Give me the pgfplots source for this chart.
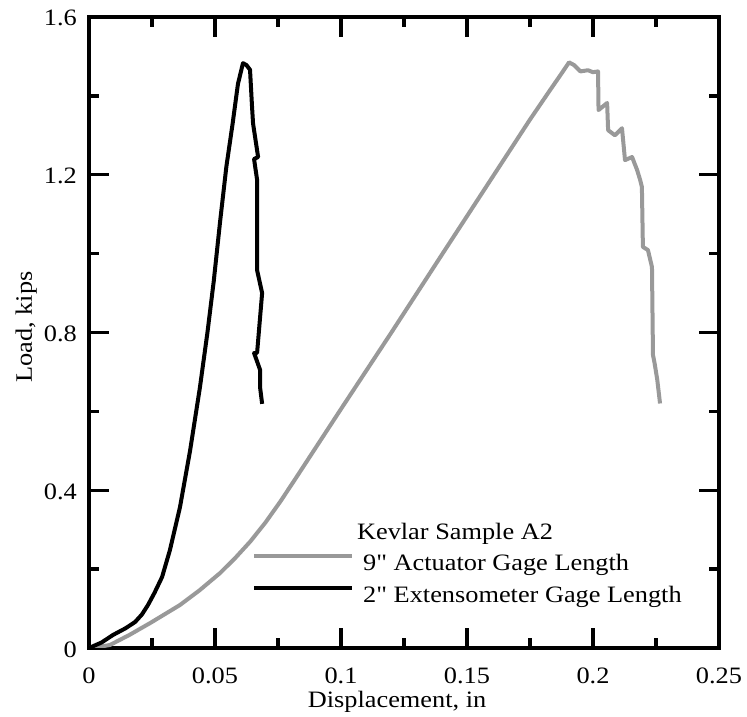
\documentclass[border=0pt]{standalone}
\usepackage{fontspec}
\setmainfont{Liberation Serif}[FakeStretch=1.12]
\newfontfamily\qf{Liberation Serif}[FakeStretch=1.12]
\usepackage{pgfplots}
\pgfplotsset{compat=1.18}
\definecolor{lgray}{RGB}{153,153,153}
\newcommand{\fs}{\fontsize{23.5bp}{28bp}\selectfont}
\begin{document}
\begin{tikzpicture}
\path[use as bounding box] (0,0) rectangle (747bp,717bp);
\begin{axis}[
  at={(89bp,69bp)}, anchor=south west,
  scale only axis, width=630bp, height=631bp,
  xmin=0, xmax=0.25, ymin=0, ymax=1.6,
  xtick={0,0.05,0.1,0.15,0.2,0.25},
  xticklabels={0,0.05,0.1,0.15,0.2,0.25},
  ytick={0,0.4,0.8,1.2,1.6},
  yticklabels={0,0.4,0.8,1.2,1.6},
  minor x tick num=1, minor y tick num=1,
  tick align=inside,
  major tick length=20bp, minor tick length=10bp,
  tick style={line width=3.3bp, black},
  axis line style={line width=4bp},
  tick label style={font=\fs},
  xticklabel style={anchor=base, yshift=-35bp, inner sep=0pt},
  yticklabel style={anchor=base east, inner sep=0pt, xshift=-12bp, yshift=-9bp},
  every axis x label/.style={at={(axis description cs:0.489,-0.0935)}, anchor=base, inner sep=0pt, font=\fs},
  every axis y label/.style={at={(axis description cs:-0.0905,0.5087)}, anchor=base, rotate=90, inner sep=0pt, font=\fs},
  xlabel={Displacement, in},
  ylabel={Load, kips},
  legend style={at={(axis cs:0.0647,0.238)}, anchor=north west, draw=none, fill=none,
    inner sep=0pt, row sep=14bp, column sep=9bp,
    nodes={inner sep=0pt, font=\fs}},
  legend cell align=left,
  legend image code/.code={\draw[#1] (0bp,7bp) -- (98bp,7bp);},
]
\addplot[lgray, line width=4bp, line join=round] coordinates {
(0,0) (0.004,0.003) (0.0083,0.0076) (0.016,0.033) (0.0242,0.063) (0.0361,0.109) (0.044,0.147)
(0.052,0.19) (0.058,0.228) (0.064,0.27) (0.07,0.318) (0.076,0.372) (0.082,0.43) (0.1,0.606) (0.12,0.80)
(0.14,0.997) (0.16,1.193) (0.175,1.34) (0.183,1.415) (0.187,1.452) (0.1905,1.485) (0.1925,1.478)
(0.195,1.462) (0.198,1.465) (0.2,1.46) (0.202,1.462) (0.2022,1.364) (0.2056,1.382)
(0.206,1.313) (0.2087,1.30) (0.2115,1.318) (0.2127,1.237) (0.2155,1.245) (0.2175,1.212)
(0.2187,1.187) (0.2194,1.169) (0.2198,1.017) (0.2218,1.009) (0.2234,0.966) (0.2238,0.743)
(0.2245,0.72) (0.2255,0.68) (0.2266,0.62)
};
\addlegendentry{9{\qf"} Actuator Gage Length}
\addplot[black, line width=4bp, line join=round] coordinates {
(0,0) (0.005,0.014) (0.0095,0.033) (0.0145,0.05) (0.0183,0.066) (0.021,0.085) (0.0234,0.109)
(0.026,0.14) (0.029,0.18) (0.0321,0.248) (0.0361,0.357) (0.0401,0.50) (0.044,0.66)
(0.047,0.80) (0.0495,0.93) (0.052,1.08) (0.0545,1.22) (0.057,1.33) (0.0591,1.43)
(0.0611,1.483) (0.0625,1.478) (0.0639,1.466)
(0.0647,1.372) (0.0651,1.33) (0.0659,1.296) (0.0671,1.245) (0.0655,1.24) (0.0667,1.187)
(0.0667,0.958) (0.0687,0.90) (0.0667,0.748) (0.0655,0.748) (0.0679,0.705) (0.0679,0.66)
(0.0687,0.619)
};
\addlegendentry{2{\qf"} Extensometer Gage Length}
\node[anchor=base west, inner sep=0pt, font=\fs] at (axis cs:0.1063,0.274) {Kevlar Sample A2};
\end{axis}
\end{tikzpicture}
\end{document}
